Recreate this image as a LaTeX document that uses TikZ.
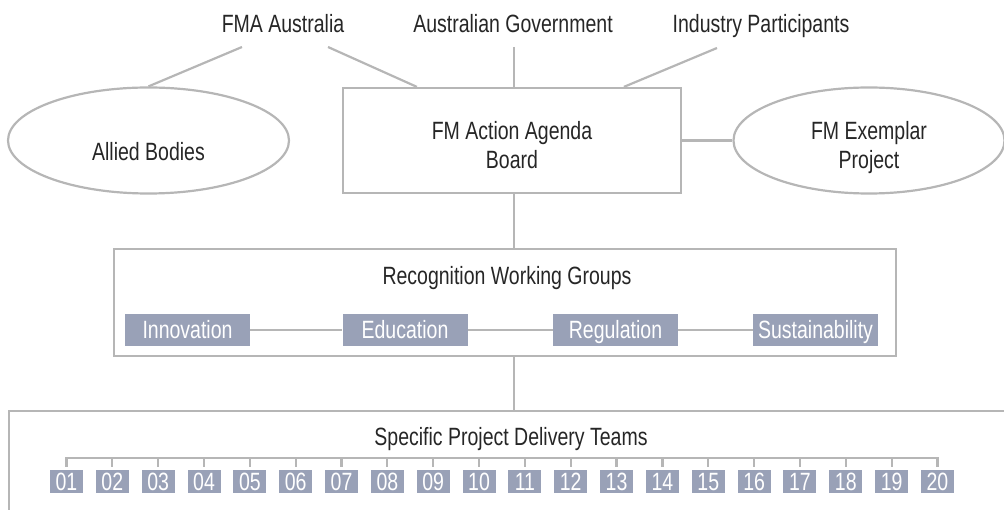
\documentclass[tikz,border=0pt]{standalone}
\usepackage{fontspec}
\setmainfont{Liberation Sans}[FakeStretch=0.78]
\usetikzlibrary{shapes.geometric,calc}
\definecolor{linegray}{RGB}{182,182,182}
\definecolor{boxblue}{RGB}{153,161,183}
\definecolor{textdark}{RGB}{38,38,38}
\begin{document}
\begin{tikzpicture}[x=1pt,y=-1pt,
  every node/.style={font=\fontsize{25}{29}\selectfont, text=textdark},
  conn/.style={draw=linegray, line width=2.2pt},
  frame/.style={draw=linegray, line width=2.2pt, rectangle, inner sep=0pt},
  oval/.style={draw=linegray, line width=2.2pt, ellipse, inner sep=0pt, align=center},
  tag/.style={fill=boxblue, text=white, inner sep=0pt, text height=18pt, text depth=0pt, minimum height=32pt, minimum width=125pt},
  num/.style={fill=boxblue, text=white, inner sep=0pt, text height=18pt, text depth=0pt, minimum height=23pt, minimum width=33pt},
  lbl/.style={anchor=base, inner sep=0pt}]
\useasboundingbox (0,0) rectangle (1004,510);
\clip (0,0) rectangle (1004,510);

% top labels
\node[lbl] (fma) at (283,33) {FMA Australia};
\node[lbl] (gov) at (513,33) {Australian Government};
\node[lbl] (ind) at (761,33) {Industry Participants};

% board and ovals
\node[frame, align=center, minimum width=338pt, minimum height=105pt, text height=57pt, text depth=0pt] (board) at (512,140.5) {FM Action Agenda\\Board};
\node[oval, minimum width=281pt, minimum height=106pt, text height=40pt, text depth=0pt] (allied) at (148.5,140.5) {Allied Bodies};
\node[oval, minimum width=271pt, minimum height=106pt, text height=57pt, text depth=0pt] (exemplar) at (869,140.5) {FM Exemplar\\Project};

% recognition working groups
\node[frame, minimum width=782pt, minimum height=107pt] (rwg) at (505,302.5) {};
\node[lbl] (rwgt) at (507,285) {Recognition Working Groups};
\node[tag] (g1) at (187.5,330) {Innovation};
\node[tag] (g2) at (405,330) {Education};
\node[tag] (g3) at (615.5,330) {Regulation};
\node[tag] (g4) at (815.5,330) {Sustainability};

% specific project delivery teams
\node[frame, minimum width=1031pt, minimum height=140pt] (spd) at (524.5,481) {};
\node[lbl] (spdt) at (511,445) {Specific Project Delivery Teams};
\foreach \i in {1,...,20} {
  \node[num] (n\i) at ({66.5+45.84*(\i-1)},481.5) {\ifnum\i<10 0\fi\i};
}

% connectors
\coordinate (fmal) at ($(fma.base)+(-41,14)$);
\coordinate (fmar) at ($(fma.base)+(45,14)$);
\coordinate (govb) at ($(gov.base)+(1,14)$);
\coordinate (indb) at ($(ind.base)+(-44,15)$);
\coordinate (bs) at ($(board.south)+(2,0)$);
\draw[conn] (fmal) -- (allied.north);
\draw[conn] (fmar) -- ($(board.north west)+(75,0)$);
\draw[conn] (govb) -- (govb |- board.north);
\draw[conn] (indb) -- ($(board.north west)+(282,0)$);
\draw[conn] (board.east) -- (exemplar.west);
\draw[conn] (bs) -- (bs |- rwg.north);
\draw[conn] (bs |- rwg.south) -- (bs |- spd.north);
\draw[conn] (g1.east) -- (g2.west);
\draw[conn] (g2.east) -- (g3.west);
\draw[conn] (g3.east) -- (g4.west);
\draw[conn] ([yshift=3pt]n1.north) -- ([yshift=12pt]n1.north) -- ([yshift=12pt]n20.north) -- ([yshift=3pt]n20.north);
\foreach \i in {2,...,19} {
  \draw[conn] ([yshift=3pt]n\i.north) -- ([yshift=12pt]n\i.north);
}
\end{tikzpicture}
\end{document}
